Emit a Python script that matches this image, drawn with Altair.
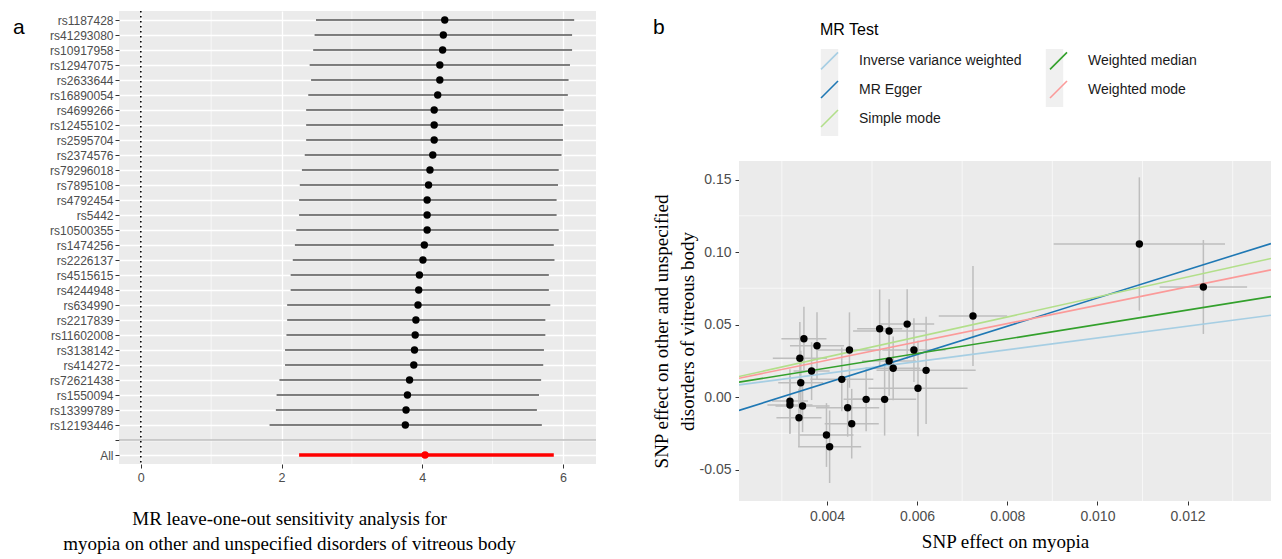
import altair as alt
import pandas as pd

# ---------------- Panel a: leave-one-out ----------------
snps = ["rs1187428", "rs41293080", "rs10917958", "rs12947075", "rs2633644",
        "rs16890054", "rs4699266", "rs12455102", "rs2595704", "rs2374576",
        "rs79296018", "rs7895108", "rs4792454", "rs5442", "rs10500355",
        "rs1474256", "rs2226137", "rs4515615", "rs4244948", "rs634990",
        "rs2217839", "rs11602008", "rs3138142", "rs414272", "rs72621438",
        "rs1550094", "rs13399789", "rs12193446"]
loo_b = [4.32, 4.30, 4.29, 4.25, 4.25, 4.22, 4.17, 4.17, 4.17, 4.15,
         4.11, 4.09, 4.07, 4.07, 4.07, 4.03, 4.01, 3.96, 3.95, 3.94,
         3.91, 3.90, 3.89, 3.88, 3.82, 3.79, 3.77, 3.76]
loo_lo = [2.49, 2.47, 2.45, 2.40, 2.42, 2.38, 2.35, 2.35, 2.35, 2.33,
          2.29, 2.26, 2.25, 2.25, 2.21, 2.19, 2.16, 2.13, 2.13, 2.08,
          2.08, 2.07, 2.05, 2.05, 1.97, 1.93, 1.92, 1.83]
loo_hi = [6.16, 6.13, 6.13, 6.10, 6.08, 6.07, 6.01, 6.00, 6.00, 5.98,
          5.94, 5.93, 5.91, 5.91, 5.94, 5.87, 5.88, 5.80, 5.80, 5.82,
          5.75, 5.75, 5.73, 5.72, 5.69, 5.66, 5.63, 5.70]
all_label = "All"
all_b, all_lo, all_hi = 4.04, 2.25, 5.87
gap_label = " "
loo_xticks = [0, 2, 4, 6]
loo_minor = [1, 3, 5]
loo_title = ["MR leave-one-out sensitivity analysis for",
             "myopia on other and unspecified disorders of vitreous body"]

# ---------------- Panel b: scatter ----------------
snp_x = [0.00318, 0.00318, 0.00338, 0.00340, 0.00342, 0.00346, 0.00349,
         0.00366, 0.00378, 0.00399, 0.00406, 0.00433, 0.00446, 0.00450,
         0.00455, 0.00487, 0.00517, 0.00528, 0.00538, 0.00538, 0.00547,
         0.00578, 0.00593, 0.00602, 0.00620, 0.00724, 0.01093, 0.01235]
snp_y = [-0.0028, -0.0055, -0.0143, 0.0267, 0.0099, -0.0062, 0.0402,
         0.0179, 0.0354, -0.0262, -0.0343, 0.0122, -0.0074, 0.0324,
         -0.0184, -0.0016, 0.0471, -0.0016, 0.0455, 0.0248, 0.0198,
         0.0503, 0.0324, 0.0060, 0.0184, 0.0559, 0.1055, 0.0759]
snp_xse = [0.0004, 0.0005, 0.0005, 0.0006, 0.0005, 0.0006, 0.0005,
           0.0004, 0.0006, 0.0006, 0.0007, 0.0007, 0.0007, 0.0007,
           0.0006, 0.0005, 0.0005, 0.0007, 0.0008, 0.0006, 0.0006,
           0.0006, 0.0007, 0.0011, 0.0011, 0.00076, 0.0019, 0.00097]
snp_yse = [0.022, 0.020, 0.020, 0.025, 0.022, 0.018, 0.022,
           0.020, 0.023, 0.022, 0.025, 0.022, 0.020, 0.026,
           0.024, 0.022, 0.027, 0.025, 0.022, 0.024, 0.022,
           0.024, 0.022, 0.033, 0.037, 0.0345, 0.046, 0.0324]

methods = ["Inverse variance weighted", "MR Egger", "Simple mode",
           "Weighted median", "Weighted mode"]
method_colors = ["#a6cee3", "#1f78b4", "#b2df8a", "#33a02c", "#fb9a99"]
method_slope = [4.07, 9.75, 6.90, 5.00, 6.33]
method_intercept = [0.0, -0.0292, 0.0, 0.0, 0.0]

sc_xdomain = [0.00205, 0.01385]
sc_ypanel = [-0.0717, 0.1628]      # grey panel extent
sc_ydomain = [-0.0717, 0.2662]     # scale also spans the legend area above the panel
sc_xticks = [0.004, 0.006, 0.008, 0.010, 0.012]
sc_xminor = [0.003, 0.005, 0.007, 0.009, 0.011, 0.013]
sc_yticks = [-0.05, 0.0, 0.05, 0.10, 0.15]
sc_yminor = [-0.025, 0.025, 0.075, 0.125]

SANS = "Liberation Sans"
SERIF = "Liberation Serif"
LABEL_GREY = "#4d4d4d"
PANEL = "#ebebeb"

# ---------- build panel a ----------
loo_df = pd.DataFrame({"snp": snps, "b": loo_b, "lo": loo_lo, "hi": loo_hi})
all_df = pd.DataFrame({"snp": [all_label], "b": [all_b], "lo": [all_lo], "hi": [all_hi]})
gap_df = pd.DataFrame({"snp": [gap_label]})
y_order = snps + [gap_label, all_label]

lx_scale = alt.Scale(domain=[-0.31, 6.47], nice=False, zero=False)
ly_scale = alt.Scale(domain=y_order, type="point", padding=0.6)

lx_axis = alt.Axis(values=loo_xticks, format="d", grid=True, gridColor="white", gridWidth=1.3,
                   domain=False, tickColor="#333333", tickSize=4, tickWidth=1,
                   labelColor=LABEL_GREY, labelFontSize=12.5, labelFont=SANS, labelPadding=3,
                   title=loo_title, titleFont=SERIF, titleFontSize=19, titleFontWeight="normal",
                   titleColor="black", titleLineHeight=25, titlePadding=26,
                   titleX=170, titleAnchor="middle")
ly_axis = alt.Axis(grid=True, gridColor="white", gridWidth=1.3, domain=False,
                   tickColor="#333333", tickSize=4, labelColor=LABEL_GREY,
                   labelFontSize=12, labelFont=SANS, labelPadding=2, title=None)

minor_l = alt.Chart(pd.DataFrame({"v": loo_minor})).mark_rule(
    color="white", strokeWidth=0.6).encode(x=alt.X("v:Q", scale=lx_scale, axis=lx_axis))
zero_l = alt.Chart(pd.DataFrame({"v": [0]})).mark_rule(
    color="black", strokeDash=[1.6, 3.4], strokeWidth=1.6).encode(x=alt.X("v:Q", scale=lx_scale))
gap_l = alt.Chart(gap_df).mark_rule(color="#bdbdbd", strokeWidth=1.6).encode(
    y=alt.Y("snp:N", scale=ly_scale, axis=ly_axis, sort=None))
bars_l = alt.Chart(loo_df).mark_rule(color="#555555", strokeWidth=1.5).encode(
    x=alt.X("lo:Q", scale=lx_scale), x2="hi:Q",
    y=alt.Y("snp:N", scale=ly_scale, sort=None))
pts_l = alt.Chart(loo_df).mark_circle(color="black", size=55, opacity=1).encode(
    x=alt.X("b:Q", scale=lx_scale), y=alt.Y("snp:N", scale=ly_scale, sort=None))
allbar_l = alt.Chart(all_df).mark_rule(color="#ff0000", strokeWidth=3.5).encode(
    x=alt.X("lo:Q", scale=lx_scale), x2="hi:Q",
    y=alt.Y("snp:N", scale=ly_scale, sort=None))
allpt_l = alt.Chart(all_df).mark_circle(color="#ff0000", size=55, opacity=1).encode(
    x=alt.X("b:Q", scale=lx_scale), y=alt.Y("snp:N", scale=ly_scale, sort=None))
tag_a = alt.Chart(pd.DataFrame({"t": ["a"]})).mark_text(
    font=SANS, fontSize=21, align="left", baseline="middle", color="black").encode(
    text="t:N", x=alt.value(-106), y=alt.value(17))

left = alt.layer(minor_l, zero_l, gap_l, bars_l, pts_l, allbar_l, allpt_l, tag_a).properties(
    width=477, height=453, view=alt.ViewBackground(fill=PANEL, stroke=None))

# ---------- build panel b ----------
sc_df = pd.DataFrame({"x": snp_x, "y": snp_y, "xse": snp_xse, "yse": snp_yse})
sc_df["xlo"] = sc_df["x"] - sc_df["xse"]
sc_df["xhi"] = sc_df["x"] + sc_df["xse"]
sc_df["ylo"] = sc_df["y"] - sc_df["yse"]
sc_df["yhi"] = sc_df["y"] + sc_df["yse"]

line_rows = []
for m, s, i in zip(methods, method_slope, method_intercept):
    for xv in sc_xdomain:
        line_rows.append({"method": m, "x": xv, "y": i + s * xv})
line_df = pd.DataFrame(line_rows)

panel_df = pd.DataFrame({"x0": [sc_xdomain[0]], "x1": [sc_xdomain[1]],
                         "y0": [sc_ypanel[0]], "y1": [sc_ypanel[1]]})

rx_scale = alt.Scale(domain=sc_xdomain, nice=False, zero=False)
ry_scale = alt.Scale(domain=sc_ydomain, nice=False, zero=False)

rx_axis = alt.Axis(values=sc_xticks, format=".3f", grid=True, gridColor="white", gridWidth=1.3,
                   domain=False, tickColor="#333333", tickSize=4,
                   labelColor=LABEL_GREY, labelFontSize=14, labelFont=SANS, labelPadding=4,
                   title="SNP effect on myopia", titleFont=SERIF, titleFontSize=19,
                   titleFontWeight="normal", titleColor="black", titlePadding=9)
ry_axis = alt.Axis(values=sc_yticks, grid=True, gridColor="white", gridWidth=1.3,
                   labelExpr="replace(format(datum.value, '.2f'), '\u2212', '-')",
                   domain=False, tickColor="#333333", tickSize=4,
                   labelColor=LABEL_GREY, labelFontSize=14, labelFont=SANS, labelPadding=4,
                   title=["SNP effect on other and unspecified", "disorders of vitreous body"],
                   titleFont=SERIF, titleFontSize=19, titleFontWeight="normal",
                   titleColor="black", titleLineHeight=26, titlePadding=2, titleY=320)

panel_r = alt.Chart(panel_df).mark_rect(color=PANEL).encode(
    x=alt.X("x0:Q", scale=rx_scale, axis=rx_axis), x2="x1:Q",
    y=alt.Y("y0:Q", scale=ry_scale, axis=ry_axis), y2="y1:Q")
minor_rx = alt.Chart(pd.DataFrame({"v": sc_xminor})).mark_rule(
    color="white", strokeWidth=0.6).encode(
    x=alt.X("v:Q", scale=rx_scale), y=alt.datum(sc_ypanel[0], scale=ry_scale),
    y2=alt.datum(sc_ypanel[1]))
minor_ry = alt.Chart(pd.DataFrame({"v": sc_yminor})).mark_rule(
    color="white", strokeWidth=0.6).encode(y=alt.Y("v:Q", scale=ry_scale))
hbars = alt.Chart(sc_df).mark_rule(color="#bebebe", strokeWidth=1.5, clip=True).encode(
    x=alt.X("xlo:Q", scale=rx_scale), x2="xhi:Q", y=alt.Y("y:Q", scale=ry_scale))
vbars = alt.Chart(sc_df).mark_rule(color="#bebebe", strokeWidth=1.5, clip=True).encode(
    x=alt.X("x:Q", scale=rx_scale), y=alt.Y("ylo:Q", scale=ry_scale), y2="yhi:Q")
pts_r = alt.Chart(sc_df).mark_circle(color="black", size=55, opacity=1).encode(
    x=alt.X("x:Q", scale=rx_scale), y=alt.Y("y:Q", scale=ry_scale))

LEG_X, LEG_Y = 81, 11
keys_r = alt.Chart(line_df).mark_point(opacity=0, filled=True).encode(
    x=alt.X("x:Q", scale=rx_scale), y=alt.Y("y:Q", scale=ry_scale),
    fill=alt.Fill("method:N",
                  scale=alt.Scale(domain=methods, range=["#f0f0f0"] * len(methods)),
                  legend=alt.Legend(title=None, orient="none", legendX=LEG_X + 1, legendY=LEG_Y + 27,
                                    columns=2, labelExpr="''", labelOffset=0,
                                    symbolType="M-1.014,-1H0.186V1H-1.014Z", symbolSize=841,
                                    symbolOpacity=1, symbolStrokeWidth=0,
                                    rowPadding=0, columnPadding=195)))
lines_r = alt.Chart(line_df).mark_line(strokeWidth=1.6, clip=True).encode(
    x=alt.X("x:Q", scale=rx_scale), y=alt.Y("y:Q", scale=ry_scale),
    color=alt.Color("method:N",
                    scale=alt.Scale(domain=methods, range=method_colors),
                    legend=alt.Legend(title="MR Test", orient="none", legendX=LEG_X, legendY=LEG_Y,
                                      columns=2, labelFont=SANS, labelFontSize=14, labelLimit=0,
                                      labelOffset=20, labelColor="#1a1a1a",
                                      titleFont=SANS, titleFontSize=16, titleFontWeight="normal",
                                      titleColor="black", titlePadding=13,
                                      symbolType="M-1,1L1,-1", symbolSize=289,
                                      symbolStrokeWidth=1.6, rowPadding=4, columnPadding=24)))
tag_b = alt.Chart(pd.DataFrame({"t": ["b"]})).mark_text(
    font=SANS, fontSize=21, align="left", baseline="middle", color="black").encode(
    text="t:N", x=alt.value(-86), y=alt.value(17))

right = alt.layer(panel_r, minor_rx, minor_ry, hbars, vbars, keys_r, lines_r, pts_r, tag_b).properties(
    width=532, height=490, view=alt.ViewBackground(fill="white", stroke=None)
).resolve_legend(fill="independent", color="independent")

chart = alt.hconcat(left, right, spacing=55).resolve_legend(
    color="independent", fill="independent").configure(background="white").properties(
    padding={"left": 5, "top": 2, "right": 0, "bottom": 0})

chart.save("out.html", embed_options={"renderer": "svg", "actions": False})
